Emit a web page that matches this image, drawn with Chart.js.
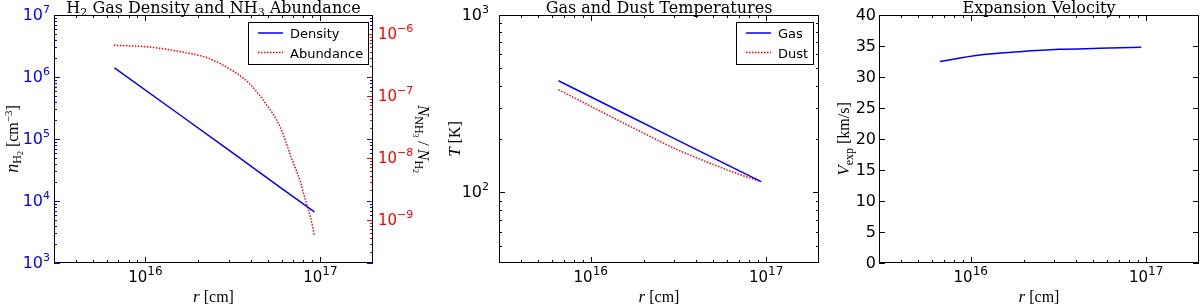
<!DOCTYPE html>
<html><head><meta charset="utf-8">
<script src="https://cdn.jsdelivr.net/npm/chart.js@4/dist/chart.umd.min.js"></script>
<style>
body{margin:0;background:#fff;width:1200px;height:306px;position:relative;overflow:hidden}
canvas{position:absolute;top:0}
</style></head><body>
<canvas id="c1" width="440" height="306" style="left:0"></canvas>
<canvas id="c2" width="390" height="306" style="left:430px"></canvas>
<canvas id="c3" width="380" height="306" style="left:820px"></canvas>
<script>
/* data */
const rDens = [6.65e15, 1.5e16, 3.0e16, 6.0e16, 9.25e16];
const nDens = [1.4e6, 2.7e5, 6.6e4, 1.6e4, 6.7e3];
const rAbun = [6.6e15, 1.04e16, 1.6e16, 2.3e16, 3.1e16, 3.9e16, 4.85e16, 5.9e16, 6.8e16, 7.7e16, 8.2e16, 8.8e16, 9.25e16];
const xAbun = [6.5e-7, 6.1e-7, 5.1e-7, 4.0e-7, 2.6e-7, 1.6e-7, 7.6e-8, 3.1e-8, 1.03e-8, 4.0e-9, 2.1e-9, 1.08e-9, 5.5e-10];
const rGas  = [6.55e15, 1.5e16, 3.0e16, 6.0e16, 9.36e16];
const tGas  = [426, 283, 201, 143, 115];
const rDust = [6.55e15, 1.11e16, 1.89e16, 3.08e16, 5.44e16, 7.09e16, 9.36e16];
const tDust = [379, 290, 222, 175, 139, 126, 115];
const rVel  = [6.67e15, 1.125e16, 1.9e16, 3.2e16, 5.4e16, 9.37e16];
const vExp  = [32.5, 33.55, 34.08, 34.46, 34.62, 34.78];
const xDecades = [1e16, 1e17];
const nDecades = [1e3, 1e4, 1e5, 1e6, 1e7];
const aDecades = [1e-9, 1e-8, 1e-7, 1e-6];
const tDecades = [1e2, 1e3];
const vTicks = [0, 5, 10, 15, 20, 25, 30, 35, 40];

const BLUE='#0000ff', RED='#ff0000';
const SANS='"DejaVu Sans", sans-serif', SERIF='"Liberation Serif", serif', TSERIF='"DejaVu Serif", serif';
const pts = (xs, ys) => xs.map((x,i)=>({x, y:ys[i]}));
function minorTicks(lo, hi){
  const out=[];
  for(let k=Math.floor(Math.log10(lo)); k<=Math.ceil(Math.log10(hi)); k++)
    for(let m=2;m<=9;m++){ const v=m*Math.pow(10,k); if(v>lo*1.0001 && v<hi*0.9999) out.push(v); }
  return out;
}

function rich(ctx, segs, x, y, align, rot){
  let w=0;
  segs.forEach(s=>{ctx.font=s[1]; s.w=ctx.measureText(s[0]).width; w+=s.w;});
  ctx.save(); ctx.translate(x,y); if(rot) ctx.rotate(rot);
  ctx.textBaseline='alphabetic'; ctx.textAlign='left';
  let cx = align==='center' ? -w/2 : align==='right' ? -w : 0;
  segs.forEach(s=>{ctx.font=s[1]; ctx.fillText(s[0], cx, s[2]||0); cx+=s.w;});
  ctx.restore();
}
const f = (px, fam, st) => (st?st+' ':'')+px+'px '+fam;

const deco = {
  id:'deco',
  afterDraw(chart){
    const o = chart.options.plugins.deco, ctx = chart.ctx, a = chart.chartArea;
    if(!o || !o.axes) return;
    ctx.save();
    // ticks + labels
    o.axes.forEach(ax=>{
      const s = chart.scales[ax.id];
      const tick = (v, len)=>{
        const p = s.getPixelForValue(v);
        ctx.strokeStyle = ax.tcol; ctx.lineWidth = 1; ctx.beginPath();
        if(s.isHorizontal()){
          if(p<a.left-0.5||p>a.right+0.5) return;
          const X=Math.round(p)+0.5;
          ctx.moveTo(X,a.bottom); ctx.lineTo(X,a.bottom-len);
          ctx.moveTo(X,a.top); ctx.lineTo(X,a.top+len);
        } else {
          if(p<a.top-0.5||p>a.bottom+0.5) return;
          const Y=Math.round(p)+0.5;
          if(ax.side!=='right'){ ctx.moveTo(a.left,Y); ctx.lineTo(a.left+len,Y); }
          if(ax.side==='right'||ax.both){ ctx.moveTo(a.right,Y); ctx.lineTo(a.right-len,Y); }
        }
        ctx.stroke();
      };
      ax.minor.forEach(v=>tick(v,3));
      ax.major.forEach(v=>tick(v,6));
      ctx.fillStyle = ax.color;
      ax.major.forEach(v=>{
        const p = s.getPixelForValue(v);
        const segs = ax.fmt==='pow'
          ? [['10', f(ax.fs,SANS)], [String(Math.round(Math.log10(v))).replace('-','\u2212'), f(ax.es,SANS), -7]]
          : [[String(v), f(ax.fs,SANS)]];
        if(s.isHorizontal()) rich(ctx, segs, p, a.bottom+19, 'center');
        else if(ax.side==='right') rich(ctx, segs, a.right+ax.pad, p+5, 'left');
        else rich(ctx, segs, a.left-ax.pad, p+5, 'right');
      });
    });
    // spines
    ctx.strokeStyle='#000'; ctx.lineWidth=1;
    ctx.strokeRect(a.left+0.5, a.top+0.5, a.right-a.left-1, a.bottom-a.top-1);
    // titles
    ctx.fillStyle='#000';
    const cx=(a.left+a.right)/2, cy=(a.top+a.bottom)/2;
    rich(ctx, o.title, cx, 12.5, 'center');
    rich(ctx, [['r', f(17,SERIF,'italic')], [' [cm]', f(16,SERIF)]], cx, 302, 'center');
    o.ytitles.forEach(t=>rich(ctx, t.segs, t.x, cy, 'center', t.rot));
    // legend
    if(o.legend){
      const L=o.legend, bx=a.right-L.off-L.w, by=22;
      ctx.fillStyle='#fff'; ctx.fillRect(bx,by,L.w,42);
      ctx.strokeStyle='#000'; ctx.lineWidth=1; ctx.strokeRect(bx+0.5,by+0.5,L.w,42);
      L.items.forEach((it,i)=>{
        const y=by+11+i*19.5;
        ctx.strokeStyle=it.c; ctx.lineWidth=1.5; ctx.setLineDash(it.dash||[]);
        ctx.beginPath(); ctx.moveTo(bx+10,y); ctx.lineTo(bx+35,y); ctx.stroke(); ctx.setLineDash([]);
        ctx.fillStyle='#000'; rich(ctx, [[it.t, f(13,SANS)]], bx+42, y+5, 'left');
      });
    }
    ctx.restore();
  }
};
Chart.register(deco);

function axis(type, min, max, size, pos){
  return {type, min, max, position:pos, ticks:{display:false}, grid:{display:false}, border:{display:false},
    afterFit: s=>{ if(s.isHorizontal()) s.height=size; else s.width=size; }};
}
const baseOpts = (pad, scales, dec) => ({
  responsive:false, animation:false, layout:{padding:pad},
  scales, plugins:{legend:{display:false}, tooltip:{enabled:false}, deco:dec}
});
const xAx = {id:'x', major:xDecades, minor:minorTicks(3e15,2e17), fmt:'pow', fs:15, es:12, color:'#000', tcol:'#000'};
const DOT = [1.5,1.5];
const T = 16, TS = 11;

new Chart(document.getElementById('c1'), {
  type:'line',
  data:{datasets:[
    {data:pts(rDens,nDens), borderColor:BLUE, borderWidth:1.5, pointRadius:0, yAxisID:'y'},
    {data:pts(rAbun,xAbun), borderColor:RED, borderWidth:1.5, borderDash:DOT, pointRadius:0, yAxisID:'y2', cubicInterpolationMode:'monotone'}
  ]},
  options: baseOpts({top:15,left:0,right:0,bottom:0},
    {x:axis('logarithmic',3e15,2e17,43,'bottom'), y:axis('logarithmic',1e3,1e7,54,'left'), y2:axis('logarithmic',2e-10,2e-6,67,'right')},
    {title:[['H',f(T,TSERIF)],['2',f(TS,TSERIF),3],[' Gas Density and NH',f(T,TSERIF)],['3',f(TS,TSERIF),3],[' Abundance',f(T,TSERIF)]],
     axes:[xAx,
       {id:'y', major:nDecades, minor:minorTicks(1e3,1e7), fmt:'pow', fs:16, es:11, color:BLUE, tcol:BLUE, pad:4, both:true},
       {id:'y2', major:aDecades, minor:minorTicks(2e-10,2e-6), fmt:'pow', fs:15, es:11, color:RED, tcol:RED, pad:5, side:'right'}],
     ytitles:[
       {x:18, rot:-Math.PI/2, segs:[['n',f(18,SERIF,'italic')],['H',f(12,SERIF),3],['2',f(8,SERIF),5],[' [cm',f(16,SERIF)],['\u22123',f(11,SERIF),-6],[']',f(16,SERIF)]]},
       {x:418, rot:Math.PI/2, segs:[['N',f(17,SERIF,'italic')],['NH',f(12,SERIF),3],['3',f(8,SERIF),5],['\u2009/\u2009',f(17,SERIF)],['N',f(17,SERIF,'italic')],['H',f(12,SERIF),3],['2',f(8,SERIF),5]]}],
     legend:{off:5, w:120, items:[{t:'Density',c:BLUE},{t:'Abundance',c:RED,dash:DOT}]}})
});

new Chart(document.getElementById('c2'), {
  type:'line',
  data:{datasets:[
    {data:pts(rGas,tGas), borderColor:BLUE, borderWidth:1.5, pointRadius:0},
    {data:pts(rDust,tDust), borderColor:RED, borderWidth:1.5, borderDash:DOT, pointRadius:0, cubicInterpolationMode:'monotone'}
  ]},
  options: baseOpts({top:15,left:0,right:1,bottom:0},
    {x:axis('logarithmic',3e15,2e17,43,'bottom'), y:axis('logarithmic',40,1000,69,'left')},
    {title:[['Gas and Dust Temperatures',f(T,TSERIF)]],
     axes:[xAx, {id:'y', major:tDecades, minor:minorTicks(40,1000), fmt:'pow', fs:16, es:11, color:'#000', tcol:'#000', pad:10, both:true}],
     ytitles:[{x:30, rot:-Math.PI/2, segs:[['T',f(17,SERIF,'italic')],[' [K]',f(16,SERIF)]]}],
     legend:{off:6, w:77, items:[{t:'Gas',c:BLUE},{t:'Dust',c:RED,dash:DOT}]}})
});

new Chart(document.getElementById('c3'), {
  type:'line',
  data:{datasets:[
    {data:pts(rVel,vExp), borderColor:BLUE, borderWidth:1.5, pointRadius:0, tension:0.4}
  ]},
  options: baseOpts({top:15,left:0,right:1,bottom:0},
    {x:axis('logarithmic',3e15,2e17,43,'bottom'), y:axis('linear',0,40,59,'left')},
    {title:[['Expansion Velocity',f(T,TSERIF)]],
     axes:[xAx, {id:'y', major:vTicks, minor:[], fmt:'num', fs:16, color:'#000', tcol:'#000', pad:3, both:true}],
     ytitles:[{x:29, rot:-Math.PI/2, segs:[['V',f(17,SERIF,'italic')],['exp',f(12,SERIF),4],[' [km/s]',f(16,SERIF)]]}]})
});
</script>
</body></html>
